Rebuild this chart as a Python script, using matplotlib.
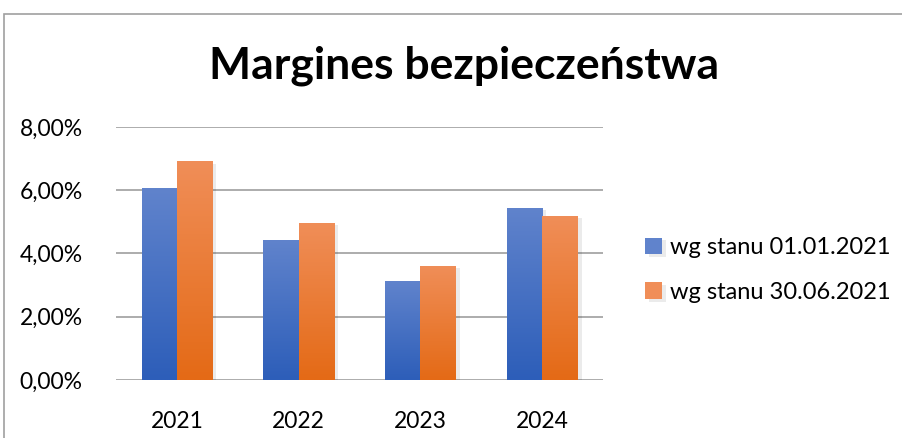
import matplotlib.pyplot as plt
import matplotlib.patheffects as pe
import numpy as np
from matplotlib.colors import LinearSegmentedColormap
from matplotlib.patches import Rectangle
from matplotlib.ticker import FuncFormatter

plt.rcParams['font.family'] = ['Lato', 'DejaVu Sans']

years = ["2021", "2022", "2023", "2024"]
stan_0101 = [6.06, 4.44, 3.12, 5.45]
stan_3006 = [6.93, 4.98, 3.62, 5.20]
series_names = ["wg stanu 01.01.2021", "wg stanu 30.06.2021"]

W, H = 903, 438
fig = plt.figure(figsize=(W / 100, H / 100), dpi=100)
ax = fig.add_axes([116 / W, 58 / H, 487 / W, 253 / H])

# outer chart frame, partly cut off at the right and bottom
fig.patches.append(Rectangle((4 / W, -0.1), 1.2, (H - 14) / H + 0.1,
                             transform=fig.transFigure, fill=False,
                             edgecolor="#A0A0A0", linewidth=1.2))

x = np.arange(len(years))
w = 0.29
grads = [("#6083CC", "#2D5EB9"), ("#F08E58", "#E46A16")]
shadow = [pe.SimplePatchShadow(offset=(3, -2), shadow_rgbFace="#000000", alpha=0.08),
          pe.Normal()]

for i, (vals, (top, bot)) in enumerate(zip([stan_0101, stan_3006], grads)):
    bars = ax.bar(x + (i - 0.5) * w, vals, w, color=top, label=series_names[i],
                  zorder=3, path_effects=shadow)
    cmap = LinearSegmentedColormap.from_list("g%d" % i, [bot, top])
    for b in bars:
        bx, by = b.get_x(), b.get_y()
        bw, bh = b.get_width(), b.get_height()
        im = ax.imshow(np.linspace(0, 1, 100).reshape(-1, 1), cmap=cmap,
                       origin="lower", aspect="auto",
                       extent=(bx, bx + bw, by, by + bh), zorder=4)
        im.set_clip_path(b)

ax.set_xlim(-0.5, 3.5)
ax.set_ylim(0, 8)
ax.set_yticks([0, 2, 4, 6, 8])
ax.yaxis.set_major_formatter(FuncFormatter(lambda v, p: f"{v:.2f}%".replace(".", ",")))
ax.set_xticks(x)
ax.set_xticklabels(years)
ax.grid(axis="y", color="#A6A6A6", linewidth=1.3, zorder=0)
for s in ax.spines.values():
    s.set_visible(False)
ax.tick_params(length=0, labelsize=16.5, colors="#000000")
ax.tick_params(axis="y", pad=24)
ax.tick_params(axis="x", pad=22)

fig.text(464 / W, 1 - 66 / H, "Margines bezpieczeństwa", ha="center", va="center",
         fontsize=32, fontweight="bold")

fig.legend(loc="center left", bbox_to_anchor=(645 / W, 1 - 270 / H), frameon=False,
           fontsize=17, handlelength=0.7, handleheight=0.7, handletextpad=0.35,
           labelspacing=1.0, borderpad=0, borderaxespad=0)

fig.savefig("out.png", dpi=100)
